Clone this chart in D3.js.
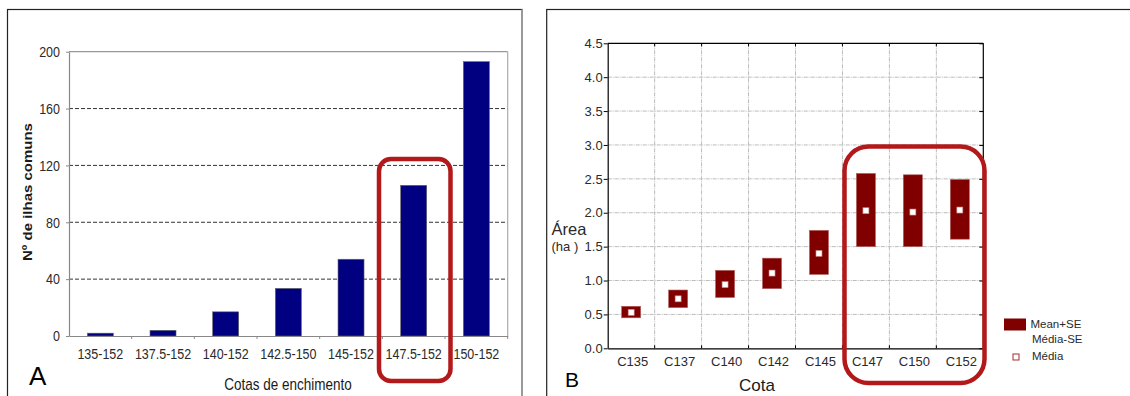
<!DOCTYPE html>
<html><head><meta charset="utf-8">
<script src="https://cdn.jsdelivr.net/npm/d3@7"></script>
<style>
html,body{margin:0;padding:0;background:#fff;}
svg{display:block;font-family:"Liberation Sans",Arial,sans-serif;}
</style></head>
<body>
<svg id="chart" width="1130" height="396"></svg>
<script>
// ---------- Panel A data ----------
const categoriesA = ["135-152","137.5-152","140-152","142.5-150","145-152","147.5-152","150-152"];
const valuesA = [2, 4, 17, 33.5, 54, 106, 193];
const ticksA = [0, 40, 80, 120, 160, 200];
// ---------- Panel B data ----------
const categoriesB = ["C135","C137","C140","C142","C145","C147","C150","C152"];
const lowerB = [0.45, 0.60, 0.75, 0.88, 1.09, 1.50, 1.50, 1.61];
const upperB = [0.62, 0.86, 1.15, 1.33, 1.74, 2.58, 2.56, 2.49];
const meanB  = [0.53, 0.73, 0.94, 1.11, 1.40, 2.03, 2.01, 2.04];
const ticksB = [0, 0.5, 1.0, 1.5, 2.0, 2.5, 3.0, 3.5, 4.0, 4.5];
const legendB = ["Mean+SE", "Média-SE", "Média"];

const svg = d3.select("#chart");
const RED = "#b3191b";

// ================= PANEL A =================
const A = {l:69, r:507.7, t:51.7, b:336};
const gA = svg.append("g");
gA.append("rect").attr("x",7.5).attr("y",9.5).attr("width",514.5).attr("height",400)
  .attr("fill","none").attr("stroke","#222").attr("stroke-width",1.2);
gA.append("line").attr("x1",522).attr("x2",522).attr("y1",9.5).attr("y2",400)
  .attr("stroke","#999").attr("stroke-width",2);

const xA = d3.scaleBand().domain(categoriesA).range([A.l, A.r]).paddingInner(0.585).paddingOuter(0.2925);
const xAfull = d3.scaleBand().domain(categoriesA).range([A.l, A.r]).padding(0);
const yA = d3.scaleLinear().domain([0, 200]).range([A.b, A.t]);

// grid
gA.append("g").selectAll("line").data(ticksA.filter(d => d > 0 && d < 200)).join("line")
  .attr("x1", A.l).attr("x2", A.r).attr("y1", d => yA(d)).attr("y2", d => yA(d))
  .attr("stroke","#333").attr("stroke-width",1).attr("stroke-dasharray","4,2");
// top & right frame of plot
gA.append("line").attr("x1",A.l).attr("x2",A.r).attr("y1",yA(200)).attr("y2",yA(200)).attr("stroke","#999").attr("stroke-width",1.2);
gA.append("line").attr("x1",A.r).attr("x2",A.r).attr("y1",yA(200)).attr("y2",A.b).attr("stroke","#aaa").attr("stroke-width",1.2);

// bars
gA.append("g").selectAll("rect").data(valuesA).join("rect")
  .attr("x", (d,i) => xA(categoriesA[i])).attr("width", xA.bandwidth())
  .attr("y", d => yA(d)).attr("height", d => yA(0) - yA(d))
  .attr("fill","#000080").attr("stroke","#666").attr("stroke-width",0.6);

// y axis
const yAxisA = gA.append("g").attr("transform",`translate(${A.l},0)`)
  .call(d3.axisLeft(yA).tickValues(ticksA).tickSize(3).tickPadding(6).tickSizeOuter(0));
yAxisA.select(".domain").attr("stroke","#888").attr("stroke-width",1.2);
yAxisA.selectAll(".tick line").attr("stroke","#888");
yAxisA.selectAll("text").attr("font-size",12.5).attr("fill","#2a2a2a")
  .attr("font-family","Liberation Sans, Arial, sans-serif").attr("transform","scale(1,1.18)");

// x axis
const xAxisA = gA.append("g").attr("transform",`translate(0,${A.b})`)
  .call(d3.axisBottom(xAfull).tickSize(0).tickPadding(11).tickSizeOuter(0));
xAxisA.select(".domain").attr("stroke","#888").attr("stroke-width",1.2);
xAxisA.selectAll("text").attr("font-size",12.5).attr("fill","#2a2a2a")
  .attr("font-family","Liberation Sans, Arial, sans-serif").attr("transform","scale(1,1.18)");
gA.append("g").selectAll("line").data(categoriesA).join("line")
  .attr("x1", d => xAfull(d) + xAfull.bandwidth()).attr("x2", d => xAfull(d) + xAfull.bandwidth())
  .attr("y1", A.b).attr("y2", A.b + 3).attr("stroke","#888");

// titles
gA.append("text").attr("transform","translate(288,390) scale(1,1.18)").attr("text-anchor","middle")
  .attr("font-size",13.5).attr("fill","#1a1a1a").text("Cotas de enchimento");
gA.append("text").attr("transform","translate(32,192) rotate(-90) scale(1.2,1)").attr("text-anchor","middle")
  .attr("font-size",12.5).attr("font-weight","bold").attr("fill","#1a1a1a").text("Nº de ilhas comuns");
gA.append("text").attr("x",29).attr("y",384.5).attr("font-size",26).attr("fill","#000").text("A");

// highlight
gA.append("rect").attr("x",379).attr("y",159).attr("width",71.5).attr("height",222)
  .attr("rx",12).attr("fill","none").attr("stroke",RED).attr("stroke-width",4.5);

// ================= PANEL B =================
const B = {l:607.7, r:983.3, t:43.3, b:348.3};
const gB = svg.append("g");
gB.append("rect").attr("x",546.7).attr("y",9.5).attr("width",600).attr("height",400)
  .attr("fill","none").attr("stroke","#222").attr("stroke-width",1.2);

const xB = d3.scaleBand().domain(categoriesB).range([B.l, B.r]).paddingInner(0.595).paddingOuter(0.2975);
const xBfull = d3.scaleBand().domain(categoriesB).range([B.l, B.r]).padding(0);
const yB = d3.scaleLinear().domain([0, 4.5]).range([B.b, B.t]);

// grid
gB.append("g").selectAll("line").data(ticksB.filter(d => d > 0 && d < 4.5)).join("line")
  .attr("x1", B.l).attr("x2", B.r).attr("y1", d => yB(d)).attr("y2", d => yB(d))
  .attr("stroke","#bbb").attr("stroke-width",1).attr("stroke-dasharray","4,1,1,1");
gB.append("g").selectAll("line").data(categoriesB.slice(1)).join("line")
  .attr("x1", d => xBfull(d)).attr("x2", d => xBfull(d)).attr("y1", B.t).attr("y2", B.b)
  .attr("stroke","#bbb").attr("stroke-width",1).attr("stroke-dasharray","4,1,1,1");

// boxes
gB.append("g").selectAll("rect").data(categoriesB).join("rect")
  .attr("x", d => xB(d)).attr("width", xB.bandwidth())
  .attr("y", (d,i) => yB(upperB[i])).attr("height", (d,i) => yB(lowerB[i]) - yB(upperB[i]))
  .attr("fill","#800000").attr("stroke","#b06060").attr("stroke-width",0.6);
// means
gB.append("g").selectAll("rect").data(categoriesB).join("rect")
  .attr("x", d => xB(d) + xB.bandwidth()/2 - 3).attr("width", 6)
  .attr("y", (d,i) => yB(meanB[i]) - 3).attr("height", 6)
  .attr("fill","#fff").attr("stroke","#c08080").attr("stroke-width",0.6);

// frame top/right
gB.append("line").attr("x1",B.l).attr("x2",B.r).attr("y1",B.t).attr("y2",B.t).attr("stroke","#000").attr("stroke-width",1.2);
gB.append("line").attr("x1",B.r).attr("x2",B.r).attr("y1",B.t).attr("y2",B.b).attr("stroke","#000").attr("stroke-width",1.2);
// right inward ticks
gB.append("g").attr("transform",`translate(${B.r},0)`)
  .call(d3.axisLeft(yB).tickValues(ticksB).tickSize(4).tickFormat("").tickSizeOuter(0))
  .call(g => g.select(".domain").remove());
// top / bottom ticks
gB.append("g").selectAll("line").data(categoriesB.slice(1)).join("line")
  .attr("x1", d => xBfull(d)).attr("x2", d => xBfull(d)).attr("y1", B.t).attr("y2", B.t + 3).attr("stroke","#000");
gB.append("g").selectAll("line").data(categoriesB.slice(1)).join("line")
  .attr("x1", d => xBfull(d)).attr("x2", d => xBfull(d)).attr("y1", B.b).attr("y2", B.b - 3).attr("stroke","#000");

// y axis
const yAxisB = gB.append("g").attr("transform",`translate(${B.l},0)`)
  .call(d3.axisLeft(yB).tickValues(ticksB).tickFormat(d3.format(".1f")).tickSize(4).tickPadding(1).tickSizeOuter(0));
yAxisB.select(".domain").attr("stroke","#000").attr("stroke-width",1.2);
yAxisB.selectAll("text").attr("font-size",13).attr("fill","#2a2a2a").attr("font-family","Liberation Sans, Arial, sans-serif");
// x axis
const xAxisB = gB.append("g").attr("transform",`translate(0,${B.b})`)
  .call(d3.axisBottom(xBfull).tickSize(0).tickPadding(8).tickSizeOuter(0));
xAxisB.select(".domain").attr("stroke","#000").attr("stroke-width",1.2);
xAxisB.selectAll("text").attr("font-size",13).attr("fill","#2a2a2a").attr("dx",1.5).attr("font-family","Liberation Sans, Arial, sans-serif");

// titles
gB.append("text").attr("x",757).attr("y",391).attr("text-anchor","middle").attr("font-size",17).attr("fill","#1a1a1a").text("Cota");
gB.append("text").attr("x",551.5).attr("y",235).attr("font-size",16.5).attr("fill","#2a2a2a").text("Área");
gB.append("text").attr("x",551.5).attr("y",251).attr("font-size",13).attr("fill","#2a2a2a").text("(ha )");
gB.append("text").attr("x",565).attr("y",386.5).attr("font-size",21).attr("fill","#000").text("B");

// highlight
gB.append("rect").attr("x",844.5).attr("y",146.5).attr("width",140).attr("height",236.5)
  .attr("rx",24).attr("fill","none").attr("stroke",RED).attr("stroke-width",4.5);

// legend
const lg = gB.append("g");
lg.append("rect").attr("x",1004).attr("y",318.5).attr("width",22).attr("height",12).attr("fill","#800000");
lg.append("rect").attr("x",1013).attr("y",354).attr("width",6).attr("height",6).attr("fill","#fff").attr("stroke","#a03030").attr("stroke-width",1);
lg.selectAll("text").data(legendB).join("text")
  .attr("x", (d,i) => i === 0 ? 1030.5 : 1032)
  .attr("y", (d,i) => [328, 342.5, 360][i])
  .attr("font-size",11.5).attr("fill","#2a2a2a").text(d => d);
</script>
</body></html>
